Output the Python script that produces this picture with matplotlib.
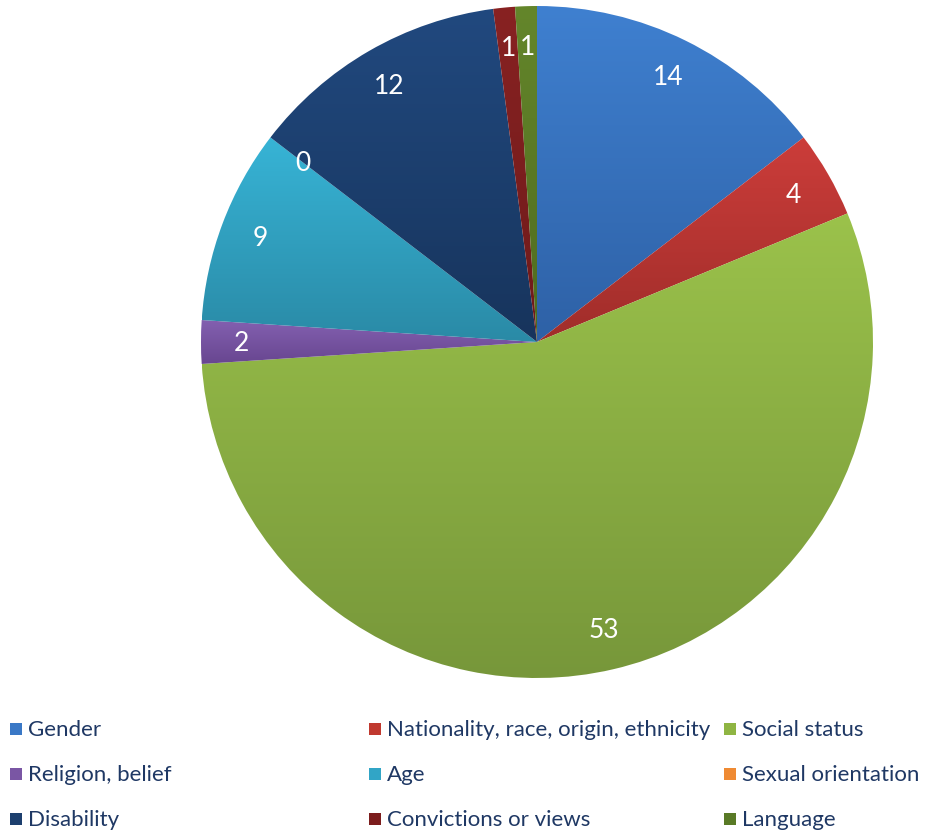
import numpy as np
import matplotlib
matplotlib.use("Agg")
import matplotlib.pyplot as plt
from matplotlib.colors import LinearSegmentedColormap
from matplotlib.patches import Rectangle

plt.rcParams['font.family'] = ['Lato', 'DejaVu Sans']

categories = ["Gender", "Nationality, race, origin, ethnicity", "Social status",
              "Religion, belief", "Age", "Sexual orientation",
              "Disability", "Convictions or views", "Language"]
values = [14, 4, 53, 2, 9, 0, 12, 1, 1]

# (top colour, bottom colour) for the gradient fill of each slice
top_colors = ["#3f80d0", "#cc3d3a", "#9bc24b", "#8360b0", "#37b4d6",
              "#f79646", "#21497f", "#882222", "#64862b"]
bottom_colors = ["#2e61a6", "#a02d2a", "#77973a", "#684690", "#2a8aa6",
                 "#d6741f", "#17345c", "#6e1a1a", "#4f6b1f"]
legend_colors = ["#3a78c6", "#c0392f", "#8fb543", "#7a56a4", "#31a5c6",
                 "#ef8a33", "#1d3f6e", "#7c1d1d", "#597a26"]

W, H = 925, 837
fig = plt.figure(figsize=(W / 100, H / 100), dpi=100)

cx, cy, r = 537, 343, 336
ax = fig.add_axes([(cx - r) / W, (H - cy - r) / H, 2 * r / W, 2 * r / H])

total = sum(values)
wedges, texts, autotexts = ax.pie(
    values, startangle=90, counterclock=False, radius=1,
    colors=legend_colors, wedgeprops=dict(linewidth=0),
    autopct=lambda p: f"{round(p * total / 100)}", pctdistance=0.88,
    textprops=dict(color="white", fontsize=19))

for w, c_top, c_bot, v in zip(wedges, top_colors, bottom_colors, values):
    if v == 0:
        continue
    ext = w.get_path().get_extents()
    cmap = LinearSegmentedColormap.from_list("g", [c_bot, c_top])
    grad = np.linspace(0, 1, 256).reshape(-1, 1)
    im = ax.imshow(grad, cmap=cmap, origin="lower", aspect="auto",
                   extent=[ext.x0, ext.x1, ext.y0, ext.y1], zorder=1.5)
    im.set_clip_path(w)
    w.set_facecolor("none")

for t in autotexts:
    t.set_zorder(3)

ax.set_xlim(-1, 1)
ax.set_ylim(-1, 1)
ax.set_aspect("auto")
ax.axis("off")

# legend laid out like the original, three columns
col_x = [10, 369, 724]
row_y = [730, 775, 820]
sq = 12
for i, (name, col) in enumerate(zip(categories, legend_colors)):
    x = col_x[i % 3]
    y = row_y[i // 3]
    fig.patches.append(Rectangle((x / W, (H - y - sq / 2) / H), sq / W, sq / H,
                                 transform=fig.transFigure, facecolor=col,
                                 edgecolor="none"))
    fig.text((x + sq + 6) / W, (H - y) / H, name, fontsize=16,
             color="#1f3864", va="center", ha="left")

fig.savefig("out.png", dpi=100)
